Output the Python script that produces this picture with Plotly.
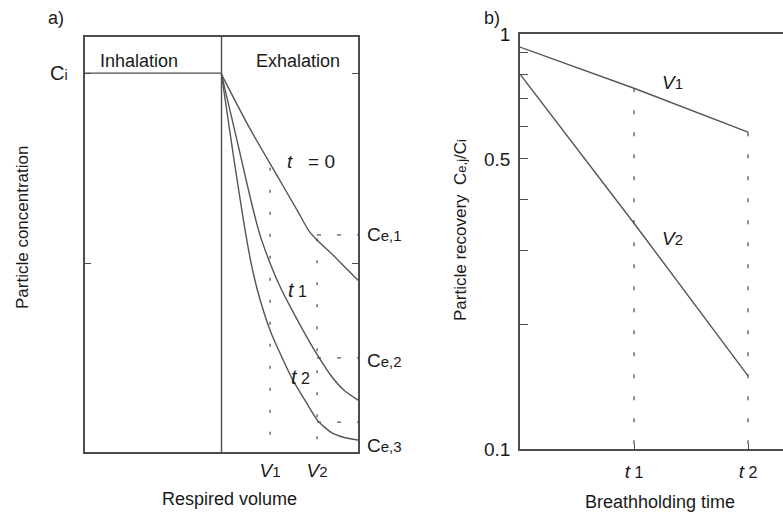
import math
import plotly.graph_objects as go

# ---------------- data : panel a) ----------------
volume_t0 = [50, 60, 70, 78, 82, 86, 90, 95, 100]
conc_t0 = [91, 78.4, 67.0, 57.9, 53.3, 50.4, 48.0, 44.7, 41.4]
volume_t1 = [50, 55, 58, 61, 64, 67.8, 71, 76, 81, 85, 90, 95, 100]
conc_t1 = [91, 77, 68.5, 60, 52.5, 45.5, 40.5, 34, 28, 23.5, 18.5, 14.8, 12.5]
volume_t2 = [50, 54, 58, 61, 64, 68, 72, 76, 81, 85.3, 90, 95, 100]
conc_t2 = [91, 73, 56, 45, 37, 29, 23, 17.5, 12, 7.5, 4.8, 3.5, 2.9]

inhal_volume = [0, 50]
ci_level = 91.3
mid_tick = 45.5
switch_volume = 50
v_marks = [67.8, 85.0]          # V1, V2
v_marks_top = [68.5, 51.5]      # where dotted lines meet t=0 curve
ce_levels = [52.3, 22.7, 7.2]   # Ce,1 Ce,2 Ce,3
ce_labels = ["1", "2", "3"]

# ---------------- data : panel b) ----------------
hold_time = [0, 1, 2]
recovery_v1 = [0.93, 0.74, 0.58]
recovery_v2 = [0.80, 0.35, 0.15]
y2_ticks = [0.1, 0.2, 0.3, 0.4, 0.5, 0.6, 0.7, 0.8, 0.9, 1]
y2_ticktext = ["0.1", "", "", "", "0.5", "", "", "", "", "1"]

W, H = 783, 513
LINE = "#555555"
AX = "#4d4d4d"
TXT = "#1a1a1a"
FONT = "Liberation Sans, Arial, sans-serif"

def small(s, size=14):
    return "<span style='font-size:%dpx'>%s</span>" % (size, s)

fig = go.Figure()

def px_x(p):
    return p / W

def px_y(p):
    return 1 - p / H

# panel a curves
for xs, ys in [(volume_t0, conc_t0), (volume_t1, conc_t1), (volume_t2, conc_t2)]:
    fig.add_trace(go.Scatter(x=xs, y=ys, mode="lines", xaxis="x", yaxis="y",
                             line=dict(color=LINE, width=1.4, shape="spline", smoothing=0.6),
                             showlegend=False, hoverinfo="skip"))
# inhalation level & switch line
fig.add_trace(go.Scatter(x=inhal_volume, y=[ci_level, ci_level], mode="lines", xaxis="x", yaxis="y",
                         line=dict(color=AX, width=1.4), showlegend=False, hoverinfo="skip"))
fig.add_trace(go.Scatter(x=[switch_volume, switch_volume], y=[0, 100], mode="lines", xaxis="x", yaxis="y",
                         line=dict(color=AX, width=1.4), showlegend=False, hoverinfo="skip"))
# dotted verticals at V1, V2
for vx, top in zip(v_marks, v_marks_top):
    fig.add_trace(go.Scatter(x=[vx, vx], y=[top, 0], mode="lines", xaxis="x", yaxis="y",
                             line=dict(color=LINE, width=1.3, dash="3px,19px"),
                             showlegend=False, hoverinfo="skip"))
# dashed Ce levels
for lv in ce_levels:
    fig.add_trace(go.Scatter(x=[v_marks[1], 100], y=[lv, lv], mode="lines", xaxis="x", yaxis="y",
                             line=dict(color=LINE, width=1.3, dash="4px,16px"),
                             showlegend=False, hoverinfo="skip"))

# panel b lines
for ys in [recovery_v1, recovery_v2]:
    fig.add_trace(go.Scatter(x=hold_time, y=ys, mode="lines", xaxis="x2", yaxis="y2",
                             line=dict(color=LINE, width=1.4), showlegend=False, hoverinfo="skip"))
# dotted verticals at t1, t2
for i in [1, 2]:
    fig.add_trace(go.Scatter(x=[hold_time[i], hold_time[i]], y=[recovery_v1[i], 0.1], mode="lines",
                             xaxis="x2", yaxis="y2",
                             line=dict(color=LINE, width=1.3, dash="4px,18px"),
                             showlegend=False, hoverinfo="skip"))

ann = []
def A(text, x, y, xref="paper", yref="paper", size=18, angle=0, xanchor="center", yanchor="middle"):
    ann.append(dict(text=text, x=x, y=y, xref=xref, yref=yref, showarrow=False,
                    font=dict(size=size, color=TXT, family=FONT), textangle=angle,
                    xanchor=xanchor, yanchor=yanchor))

A("a)", px_x(56), px_y(18), size=18)
A("b)", px_x(492), px_y(18), size=18)
A("Inhalation", 19.6, 94.2, "x", "y", size=18)
A("Exhalation", 78.2, 94.2, "x", "y", size=18)
A("<i>t</i>\u00a0\u00a0\u00a0= 0", 82.8, 70.0, "x", "y", size=19)
A("<i>t</i>" + small(" 1", 16), 78.0, 39.0, "x", "y", size=20)
A("<i>t</i>" + small(" 2", 16), 79.1, 18.1, "x", "y", size=20)
for t, ypx in zip(ce_labels, [235, 360, 445]):
    A("C" + small("e," + t, 15), px_x(365), px_y(ypx), size=19, xanchor="left")
A("C" + small("i", 14), px_x(59), px_y(73), size=20)
A("Respired volume", px_x(229), px_y(499), size=18)
A("Breathholding time", px_x(660), px_y(502), size=18)
A("Particle concentration", px_x(22), px_y(228), size=17, angle=-90)
A("Particle recovery  C" + small("e,j", 13) + "/C" + small("i", 13), px_x(460), px_y(230), size=17, angle=-90)
A("<i>V</i>" + small("1", 15), 1.34, math.log10(0.766), "x2", "y2", size=19)
A("<i>V</i>" + small("2", 15), 1.34, math.log10(0.322), "x2", "y2", size=19)

axis_common = dict(showgrid=False, zeroline=False, showline=True, linecolor=AX, linewidth=1.5,
                   tickcolor=AX, tickwidth=1.3, automargin=False,
                   tickfont=dict(size=19, color=TXT, family=FONT))

fig.update_layout(
    width=W, height=H, margin=dict(l=0, r=0, t=0, b=0, pad=0, autoexpand=False),
    paper_bgcolor="white", plot_bgcolor="white",
    font=dict(family=FONT, color=TXT),
    showlegend=False,
    xaxis=dict(domain=[px_x(85), px_x(358)], range=[0, 100], anchor="y", mirror=True,
               tickvals=v_marks, ticktext=["<i>V</i>" + small("1", 15), "<i>V</i>" + small("2", 15)],
               ticks="", ticklabelstandoff=0, **axis_common),
    yaxis=dict(domain=[1 - 452 / H, 1 - 37 / H], range=[0, 100], anchor="x", mirror="ticks",
               tickvals=[mid_tick, ci_level], ticktext=["", ""],
               ticks="inside", ticklen=6, **axis_common),
    xaxis2=dict(domain=[px_x(520), 1], range=[0, 2.307], anchor="y2", mirror=True,
                tickvals=[1, 2], ticktext=["<i>t</i>" + small(" 1", 16), "<i>t</i>" + small(" 2", 16)],
                ticks="inside", ticklen=5, ticklabelstandoff=4, **axis_common),
    yaxis2=dict(domain=[1 - 449 / H, 1 - 34 / H], type="log", range=[-1, 0], anchor="x2",
                tickvals=y2_ticks, ticktext=y2_ticktext,
                ticks="inside", ticklen=8, ticklabelstandoff=4, **axis_common),
    annotations=ann,
)

fig.write_html("out.html", config={"displayModeBar": False},
               post_script="document.body.style.margin='0';")
